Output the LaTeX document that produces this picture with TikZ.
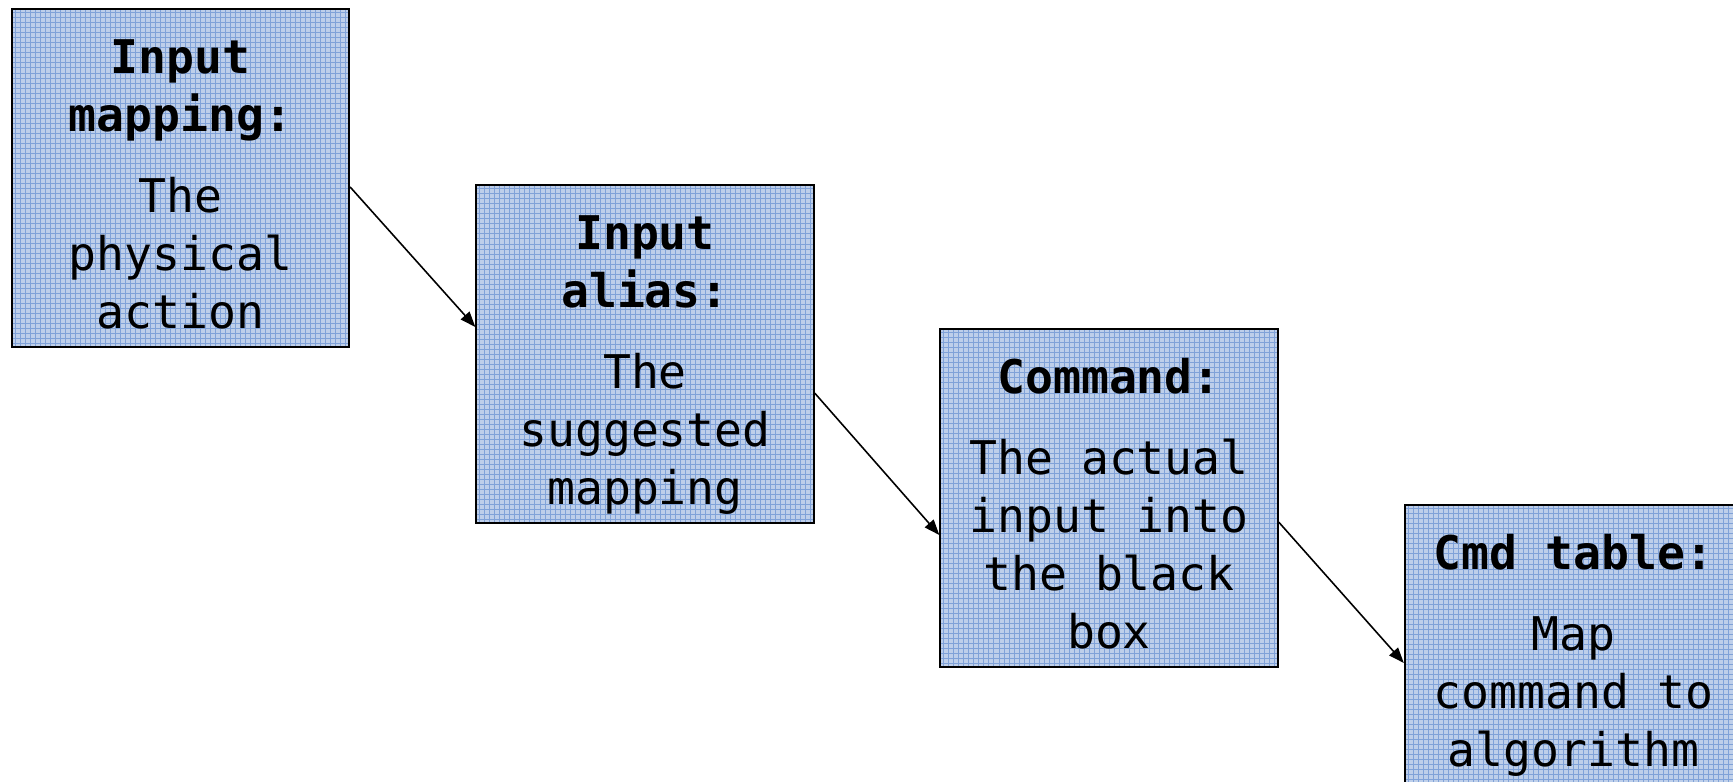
\documentclass[tikz,border=0pt]{standalone}
\usepackage{fontspec}
\setmonofont{DejaVu Sans Mono}
\usetikzlibrary{arrows.meta}
\definecolor{boxfill}{RGB}{190,207,234}
\definecolor{gridblue}{RGB}{128,162,216}
\tikzset{
  card/.style={draw=black, line width=0.6pt, fill=boxfill, rectangle,
    minimum width=3.37cm, minimum height=3.385cm, inner sep=0pt,
    path picture={\draw[gridblue, line width=0.25pt, step=0.05cm]
      (path picture bounding box.south west) grid (path picture bounding box.north east);}},
  cardtext/.style={anchor=north, align=center, inner sep=0pt, yshift=-7.1pt,
    font=\ttfamily\fontsize{13.2}{16.5}\selectfont},
  flow/.style={draw=black, line width=0.45pt, -{Triangle[length=4.4pt,width=3.3pt]}}
}
\begin{document}
\begin{tikzpicture}[x=0.01cm, y=-0.01cm]
\useasboundingbox (0,0) rectangle (1733,781);
\node[card] (b1) at (180.5,178) {};
\node[card] (b2) at (645,354) {};
\node[card] (b3) at (1109,498) {};
\node[card] (b4) at (1573.5,674) {};
\node[cardtext] (t1) at (b1.north) {\strut\textbf{Input}\\\textbf{mapping:}\\[6.4pt]The\\physical\\action};
\node[cardtext] (t2) at (b2.north) {\strut\textbf{Input}\\\textbf{alias:}\\[6.4pt]The\\suggested\\mapping};
\node[cardtext] (t3) at (b3.north) {\strut\textbf{Command:}\\[6.4pt]The actual\\input into\\the black\\box};
\node[cardtext] (t4) at (b4.north) {\strut\textbf{Cmd table:}\\[6.4pt]Map\\command to\\algorithm};
\draw[flow] ([yshift=-0.09cm]b1.east) -- ([yshift=0.27cm]b2.west);
\draw[flow] ([yshift=-0.39cm]b2.east) -- ([yshift=-0.37cm]b3.west);
\draw[flow] ([yshift=-0.24cm]b3.east) -- ([yshift=0.11cm]b4.west);
\end{tikzpicture}
\end{document}
